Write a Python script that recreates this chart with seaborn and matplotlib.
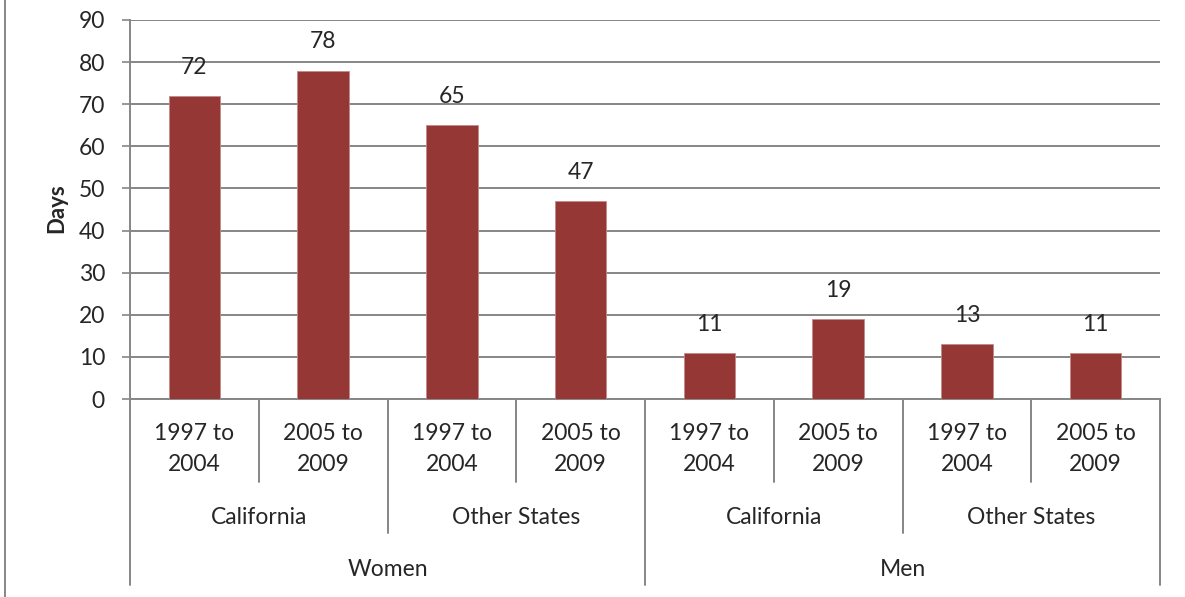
import pandas as pd
import matplotlib.pyplot as plt
import matplotlib.transforms as mtransforms
import seaborn as sns

# --- Datos ---
generos = ['Women', 'Men']
estados = ['California', 'Other States']
periodos = ['1997 to\n2004', '2005 to\n2009']
dias = [72, 78, 65, 47, 11, 19, 13, 11]

filas = []
i = 0
for g in generos:
    for e in estados:
        for p in periodos:
            filas.append({'pos': i, 'genero': g, 'estado': e, 'periodo': p, 'dias': dias[i]})
            i += 1
df = pd.DataFrame(filas)

sns.set_style('white')
plt.rcParams['font.family'] = ['Lato', 'DejaVu Sans']

W, H = 1185, 597
fig = plt.figure(figsize=(W / 100, H / 100), dpi=100)
ax = fig.add_axes([130 / W, 1 - 399 / H, 1030 / W, 379 / H])

gris = '#868686'
color_barra = '#953735'

sns.barplot(data=df, x='pos', y='dias', color=color_barra, saturation=1,
            width=0.4, edgecolor='#c08a89', linewidth=0.6, ax=ax, zorder=3)

ax.set_xlim(-0.5, len(df) - 0.5)
ax.set_ylim(0, 90)
ax.set_yticks(range(0, 91, 10))
ax.yaxis.grid(True, color=gris, linewidth=1.4, zorder=0)
ax.set_axisbelow(True)
ax.set_xticks([])
ax.set_xlabel('')
ax.set_ylabel('')
ax.tick_params(axis='y', direction='out', length=6, width=1.2, color=gris,
               labelsize=16.5, pad=12, left=True)
for lado in ['top', 'right']:
    ax.spines[lado].set_visible(False)
for lado in ['left', 'bottom']:
    ax.spines[lado].set_color(gris)
    ax.spines[lado].set_linewidth(1.4)

# Etiquetas de valores
for _, r in df.iterrows():
    ax.annotate(str(r['dias']), (r['pos'], r['dias']), xytext=(0, 13),
                textcoords='offset points', ha='center', va='bottom', fontsize=16.5)

fig.text(57 / W, 1 - 208 / H, 'Days', rotation=90, ha='center', va='center',
         fontsize=16, fontweight='bold')

# Eje de categorías multinivel
tr = mtransforms.blended_transform_factory(ax.transData, fig.transFigure)

def fy(py):
    return 1 - py / H

def linea(x, y_fin):
    ax.plot([x, x], [fy(399), fy(y_fin)], transform=tr, color=gris,
            linewidth=1.4, clip_on=False)

n = len(df)
for k in range(n + 1):
    x = k - 0.5
    if k % 4 == 0:
        linea(x, 585)
    elif k % 2 == 0:
        linea(x, 533)
    else:
        linea(x, 482)

for _, r in df.iterrows():
    ax.text(r['pos'], fy(449), r['periodo'], transform=tr, ha='center', va='center',
            fontsize=16.5, linespacing=1.6)

for j in range(n // 2):
    ax.text(2 * j + 0.5, fy(517), df['estado'].iloc[2 * j], transform=tr,
            ha='center', va='center', fontsize=16.5)

for j in range(n // 4):
    ax.text(4 * j + 1.5, fy(570), df['genero'].iloc[4 * j], transform=tr,
            ha='center', va='center', fontsize=16.5)

# Borde izquierdo del área del gráfico
fig.add_artist(plt.Line2D([5 / W, 5 / W], [0, 1], color=gris, linewidth=1.4))

plt.savefig('out.png', dpi=100)
